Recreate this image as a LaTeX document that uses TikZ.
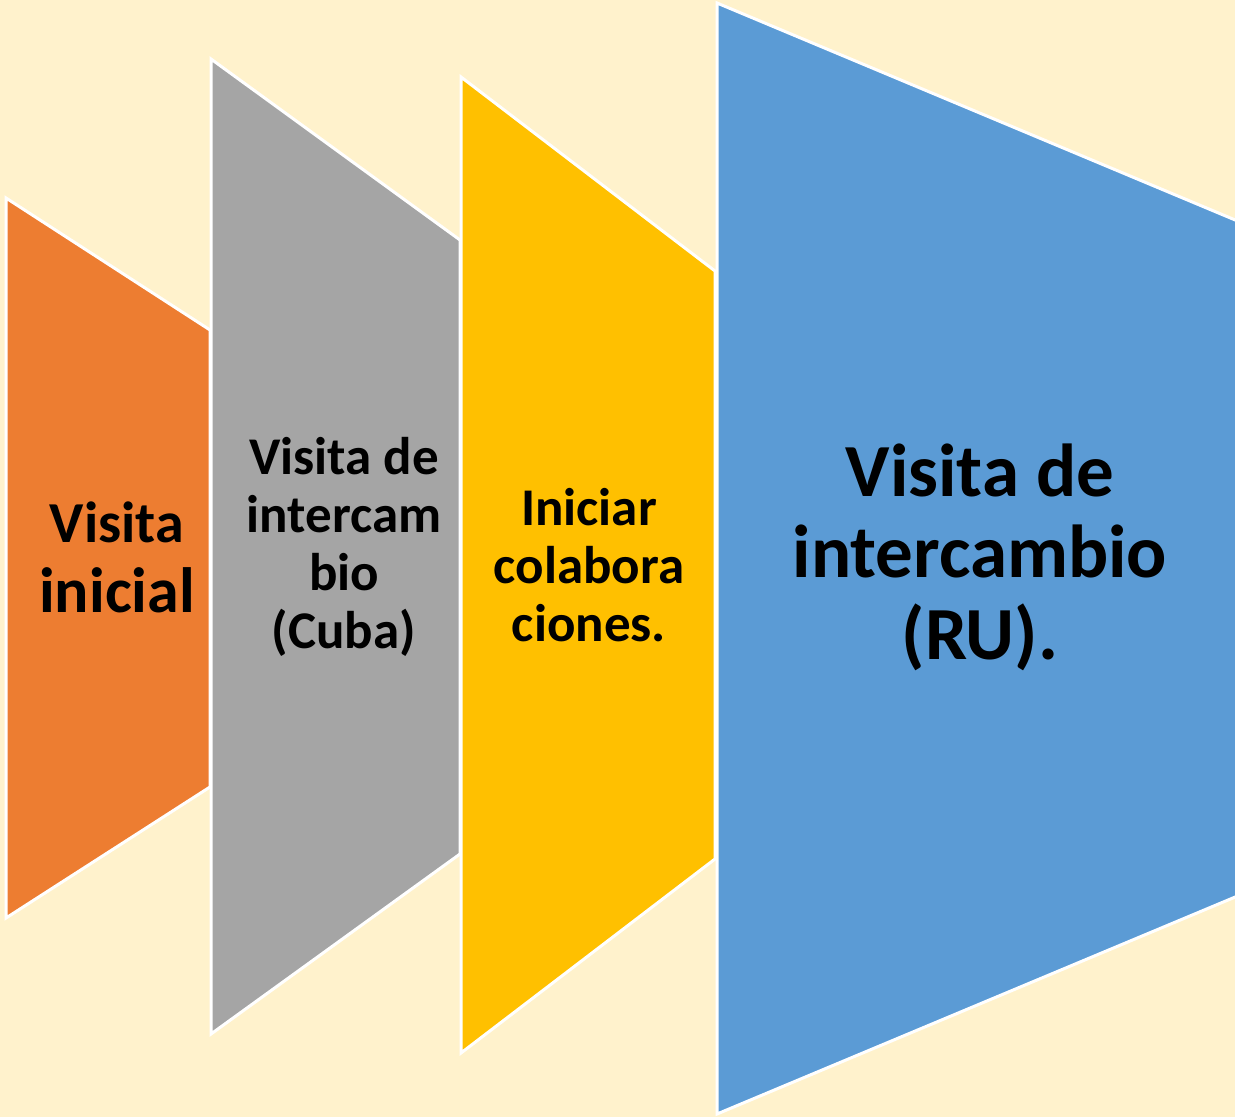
\documentclass[tikz,border=0pt]{standalone}
\usepackage{fontspec}
\setmainfont{Carlito}
\definecolor{bgc}{HTML}{FFF2CC}
\definecolor{c1}{HTML}{ED7D31}
\definecolor{c2}{HTML}{A5A5A5}
\definecolor{c3}{HTML}{FFC000}
\definecolor{c4}{HTML}{5B9BD5}
\tikzset{
  seg/.style={draw=white, line width=3pt, line join=miter},
  lbl/.style={text=black, align=center, inner sep=0pt},
  fmid/.style={font=\fontsize{53}{58}\selectfont\bfseries},
  fbig/.style={font=\fontsize{75}{81.5}\selectfont\bfseries}
}
\begin{document}
\begin{tikzpicture}[x=1pt,y=-1pt]
\fill[bgc] (0,0) rectangle (1235,1117);
\useasboundingbox (0,0) rectangle (1235,1117);
\draw[seg, fill=c1] (6,198) -- (210,330) -- (210,787) -- (6,918) -- cycle;
\draw[seg, fill=c2] (211,59) -- (460,240) -- (460,854) -- (211,1034) -- cycle;
\draw[seg, fill=c3] (461,77) -- (715,271) -- (715,859) -- (461,1053) -- cycle;
\draw[seg, fill=c4] (717,3) -- (1240,222) -- (1240,895) -- (717,1114) -- cycle;
\node[lbl, anchor=base, font=\fontsize{58}{62}\selectfont\bfseries] (t1a) at (117,542) {Visita};
\node[lbl, anchor=base, font=\fontsize{64}{70}\selectfont\bfseries] (t1b) at (117,612) {inicial};
\node[lbl, fmid] (t2) at (344,547) {Visita de\\intercam\\bio\\(Cuba)};
\node[lbl, fmid] (t3) at (589,565) {Iniciar\\colabora\\ciones.};
\node[lbl, fbig] (t4) at (980,557) {Visita de\\intercambio\\(RU).};
\end{tikzpicture}
\end{document}
